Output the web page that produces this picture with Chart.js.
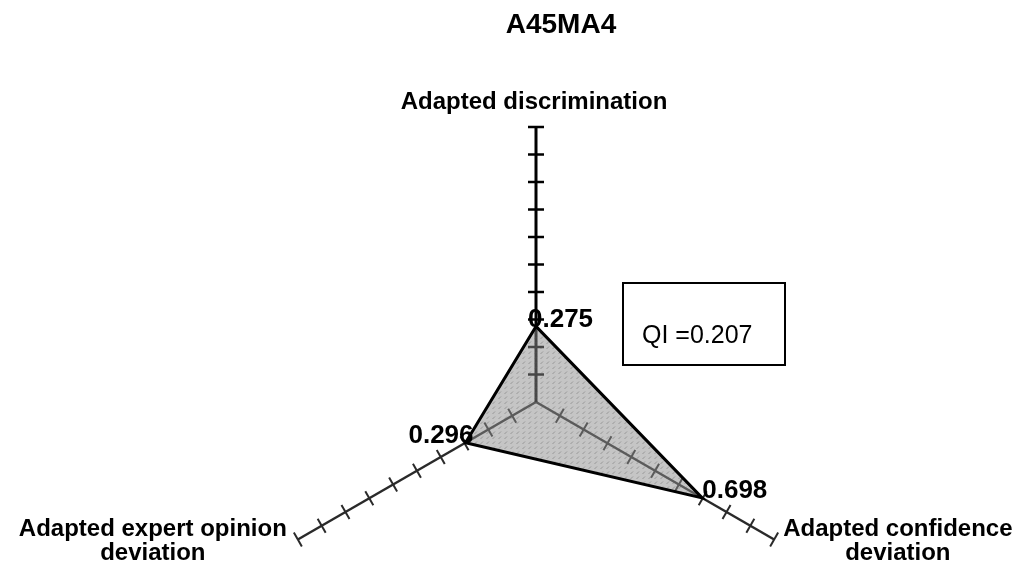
<!DOCTYPE html>
<html>
<head>
<meta charset="utf-8">
<script src="https://cdn.jsdelivr.net/npm/chart.js@4"></script>
<style>
body{margin:0;background:#fff;}
canvas{display:block;}
</style>
</head>
<body>
<canvas id="radar" width="1026" height="572"></canvas>
<script>
// chart values
const chartTitle="A45MA4";
const axisNames=[["Adapted discrimination"],["Adapted confidence","deviation"],["Adapted expert opinion","deviation"]];
const scores=[0.275,0.698,0.296];
const tickValues=[0.1,0.2,0.3,0.4,0.5,0.6,0.7,0.8,0.9,1.0];
const qiText="QI =0.207";

const FONT="'Liberation Sans', Arial, sans-serif";

// grey fill with little slanted dashes
function hatch(){
  const c=document.createElement("canvas");
  c.width=6;c.height=5;
  const g=c.getContext("2d");
  g.fillStyle="rgba(140,140,140,0.5)";
  g.fillRect(0,0,6,5);
  g.strokeStyle="rgba(95,95,95,0.45)";
  g.lineWidth=1;
  g.beginPath();g.moveTo(0.5,4);g.lineTo(3,1.5);g.stroke();
  return g.createPattern(c,"repeat");
}

const axisTicks={
  id:"axisTicks",
  beforeDatasetsDraw(chart){
    const s=chart.scales.r,ctx=chart.ctx;
    ctx.save();
    axisNames.forEach((_,i)=>{
      const end=s.getPointPositionForValue(i,1);
      const dx=end.x-s.xCenter,dy=end.y-s.yCenter,len=Math.hypot(dx,dy);
      const px=-dy/len,py=dx/len;
      ctx.strokeStyle=i===0?"#000":"#2a2a2a";
      ctx.lineWidth=i===0?2.5:2;
      tickValues.forEach(v=>{
        const p=s.getPointPositionForValue(i,v);
        ctx.beginPath();
        ctx.moveTo(p.x-px*8,p.y-py*8);
        ctx.lineTo(p.x+px*8,p.y+py*8);
        ctx.stroke();
      });
    });
    ctx.restore();
  }
};

const labelsAndBox={
  id:"labelsAndBox",
  afterDraw(chart){
    const s=chart.scales.r,ctx=chart.ctx;
    ctx.save();
    ctx.fillStyle="#000";
    ctx.textBaseline="alphabetic";
    // axis names
    ctx.font="bold 24px "+FONT;
    axisNames.forEach((lines,i)=>{
      const end=s.getPointPositionForValue(i,1);
      const w=Math.max(...lines.map(l=>ctx.measureText(l).width));
      let cx,by;
      if(i===0){cx=end.x-2;by=end.y-18-(lines.length-1)*24;}
      else if(end.x>s.xCenter){cx=end.x+9+w/2;by=end.y-4;}
      else{cx=end.x-11-w/2;by=end.y-4;}
      ctx.textAlign="center";
      lines.forEach((l,k)=>ctx.fillText(l,cx,by+k*24));
    });
    // value labels
    ctx.font="bold 26px "+FONT;
    const meta=chart.getDatasetMeta(0);
    meta.data.forEach((pt,i)=>{
      const txt=scores[i].toFixed(3);
      if(pt.x<s.xCenter-1){ctx.textAlign="right";ctx.fillText(txt,pt.x+8,pt.y);}
      else if(i===0){ctx.textAlign="left";ctx.fillText(txt,pt.x-8,pt.y+1);}
      else{ctx.textAlign="left";ctx.fillText(txt,pt.x,pt.y);}
    });
    // QI box
    ctx.lineWidth=2;
    ctx.strokeStyle="#000";
    ctx.strokeRect(623,283,162,82);
    ctx.font="25px "+FONT;
    ctx.textAlign="left";
    ctx.fillText(qiText,642,343);
    ctx.restore();
  }
};

new Chart(document.getElementById("radar"),{
  type:"radar",
  data:{
    labels:axisNames,
    datasets:[{
      data:scores,
      backgroundColor:hatch(),
      borderColor:"#000",
      borderWidth:3,
      fill:true,
      pointRadius:0,
      tension:0
    }]
  },
  options:{
    responsive:false,
    animation:false,
    layout:{padding:{left:96,top:0}},
    plugins:{
      legend:{display:false},
      tooltip:{enabled:false},
      title:{
        display:true,
        text:chartTitle,
        color:"#000",
        font:{family:FONT,size:28,weight:"bold"},
        padding:{top:8,bottom:0}
      }
    },
    scales:{
      r:{
        min:0,max:1,
        ticks:{display:false,stepSize:0.1},
        grid:{display:false},
        pointLabels:{display:false},
        angleLines:{
          display:true,
          color:ctx=>ctx.index===0?"#000":"#2a2a2a",
          lineWidth:ctx=>ctx.index===0?3:2.5
        },
        afterFit(scale){
          scale.xCenter=536;
          scale.yCenter=402;
          scale.drawingArea=275;
        }
      }
    }
  },
  plugins:[axisTicks,labelsAndBox]
});
</script>
</body>
</html>
